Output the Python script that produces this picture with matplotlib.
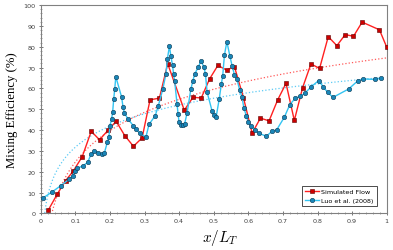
import numpy as np
import matplotlib
matplotlib.use('Agg')
import matplotlib.pyplot as plt

# Simulated Flow (red squares)
sim_x = [0.022, 0.048, 0.072, 0.094, 0.12, 0.146, 0.17, 0.194, 0.218, 0.243,
         0.268, 0.293, 0.316, 0.343, 0.367, 0.415, 0.44, 0.464, 0.488, 0.512,
         0.537, 0.56, 0.586, 0.611, 0.635, 0.66, 0.685, 0.709, 0.733, 0.757,
         0.781, 0.806, 0.831, 0.856, 0.88, 0.904, 0.929, 0.979, 1.0]
sim_y = [1.6, 9.3, 15.7, 20.3, 27.2, 39.4, 35.3, 39.8, 44.2, 37.3,
         32.2, 36.2, 54.5, 55.3, 71.8, 49.5, 55.7, 55.4, 64.5, 71.0,
         68.8, 70.4, 55.5, 38.5, 45.7, 44.4, 54.5, 62.4, 44.6, 60.4,
         71.7, 69.6, 84.8, 80.5, 85.8, 85.0, 91.8, 88.1, 79.8]

# Luo et al. (2008) (blue circles)
luo_x = [0.006, 0.034, 0.058, 0.083, 0.092, 0.099, 0.105, 0.123, 0.136, 0.145,
         0.154, 0.167, 0.177, 0.184, 0.193, 0.197, 0.200, 0.205, 0.208, 0.211,
         0.214, 0.217, 0.234, 0.238, 0.242, 0.252, 0.268, 0.274, 0.287, 0.304,
         0.313, 0.331, 0.340, 0.353, 0.362, 0.366, 0.372, 0.376, 0.381, 0.384,
         0.387, 0.394, 0.397, 0.400, 0.406, 0.412, 0.416, 0.423, 0.434, 0.440,
         0.445, 0.456, 0.463, 0.472, 0.476, 0.481, 0.495, 0.502, 0.507, 0.516,
         0.522, 0.526, 0.531, 0.538, 0.547, 0.553, 0.560, 0.567, 0.575, 0.582,
         0.587, 0.594, 0.600, 0.607, 0.619, 0.630, 0.652, 0.668, 0.682, 0.704,
         0.720, 0.736, 0.750, 0.763, 0.782, 0.803, 0.817, 0.829, 0.845, 0.890,
         0.917, 0.932, 0.967, 0.984]
luo_y = [7.3, 10.4, 13.3, 16.5, 18.0, 20.3, 21.6, 22.9, 24.5, 28.3,
         30.0, 29.2, 28.3, 29.0, 34.4, 36.5, 42.0, 45.3, 48.8, 54.9,
         59.7, 65.6, 55.7, 50.9, 48.2, 45.3, 42.0, 40.5, 38.4, 36.6,
         42.7, 46.9, 51.7, 59.7, 67.0, 74.0, 80.3, 75.7, 71.0, 67.0,
         63.7, 52.5, 47.7, 43.7, 42.5, 42.2, 43.0, 48.2, 59.7, 63.7,
         66.9, 70.4, 73.2, 70.1, 67.0, 58.1, 49.3, 47.3, 46.2, 55.0,
         62.0, 66.0, 76.0, 82.4, 75.3, 70.9, 66.5, 64.5, 59.2, 55.7,
         50.7, 46.9, 43.7, 42.0, 40.0, 38.5, 37.0, 39.3, 40.1, 46.1,
         52.2, 55.3, 56.2, 57.6, 60.8, 63.7, 60.7, 58.1, 55.7, 59.7,
         63.7, 64.5, 64.3, 64.9]

sim_x = np.array(sim_x); sim_y = np.array(sim_y)
luo_x = np.array(luo_x); luo_y = np.array(luo_y)

plt.rcParams['mathtext.fontset'] = 'cm'

fig = plt.figure(figsize=(3.93, 2.51), dpi=100)
ax = fig.add_axes([0.1036, 0.146, 0.8804, 0.830])

# logarithmic trend lines
a1, b1 = np.polyfit(np.log(sim_x), sim_y, 1)
a2, b2 = np.polyfit(np.log(luo_x), luo_y, 1)
tx1 = np.linspace(sim_x[0], sim_x[-1], 300)
tx2 = np.linspace(luo_x[0], luo_x[-1], 300)
ax.plot(tx1, a1 * np.log(tx1) + b1, ':', color='#ff5a5a', lw=0.9, zorder=2)
ax.plot(tx2, a2 * np.log(tx2) + b2, ':', color='#5ccbf5', lw=0.9, zorder=2)

ax.plot(sim_x, sim_y, '-', color='#ff2020', lw=1.0, marker='s', ms=3.2,
        mfc='#cc0000', mec='#5a0000', mew=0.4, label='Simulated Flow', zorder=3)
ax.plot(luo_x, luo_y, '-', color='#33c4f2', lw=1.0, marker='o', ms=3.2,
        mfc='#1a86b8', mec='#0d3b55', mew=0.4, label='Luo et al. (2008)', zorder=4)

ax.set_xlim(0, 1)
ax.set_ylim(0, 100)
ax.set_xticks(np.arange(0, 1.01, 0.1))
ax.set_xticklabels(['0', '0.1', '0.2', '0.3', '0.4', '0.5', '0.6', '0.7', '0.8', '0.9', '1'])
ax.set_yticks(np.arange(0, 101, 10))
ax.set_xticks(np.arange(0, 1.001, 0.02), minor=True)
ax.set_yticks(np.arange(0, 101, 2), minor=True)
ax.tick_params(which='major', labelsize=4.6, labelcolor='#404040', length=3,
               width=0.6, direction='inout', color='#606060', pad=2)
ax.tick_params(which='minor', length=1.5, width=0.4, direction='inout', color='#606060')
for s in ax.spines.values():
    s.set_color('#808080')
    s.set_linewidth(0.8)

ax.set_ylabel('Mixing Efficiency (%)', family='Liberation Serif', fontsize=9.2, labelpad=4)
ax.set_xlabel('$x/L_T$', fontsize=11)
ax.xaxis.set_label_coords(0.52, -0.065, transform=ax.transAxes)

leg = ax.legend(loc='lower right', bbox_to_anchor=(0.971, 0.034), borderaxespad=0,
                fontsize=4.6, fancybox=False, framealpha=1, edgecolor='#303030',
                handlelength=2.2, borderpad=0.5, labelspacing=0.5, handletextpad=0.3)
leg.get_frame().set_linewidth(0.6)

plt.savefig('out.png', dpi=100)
